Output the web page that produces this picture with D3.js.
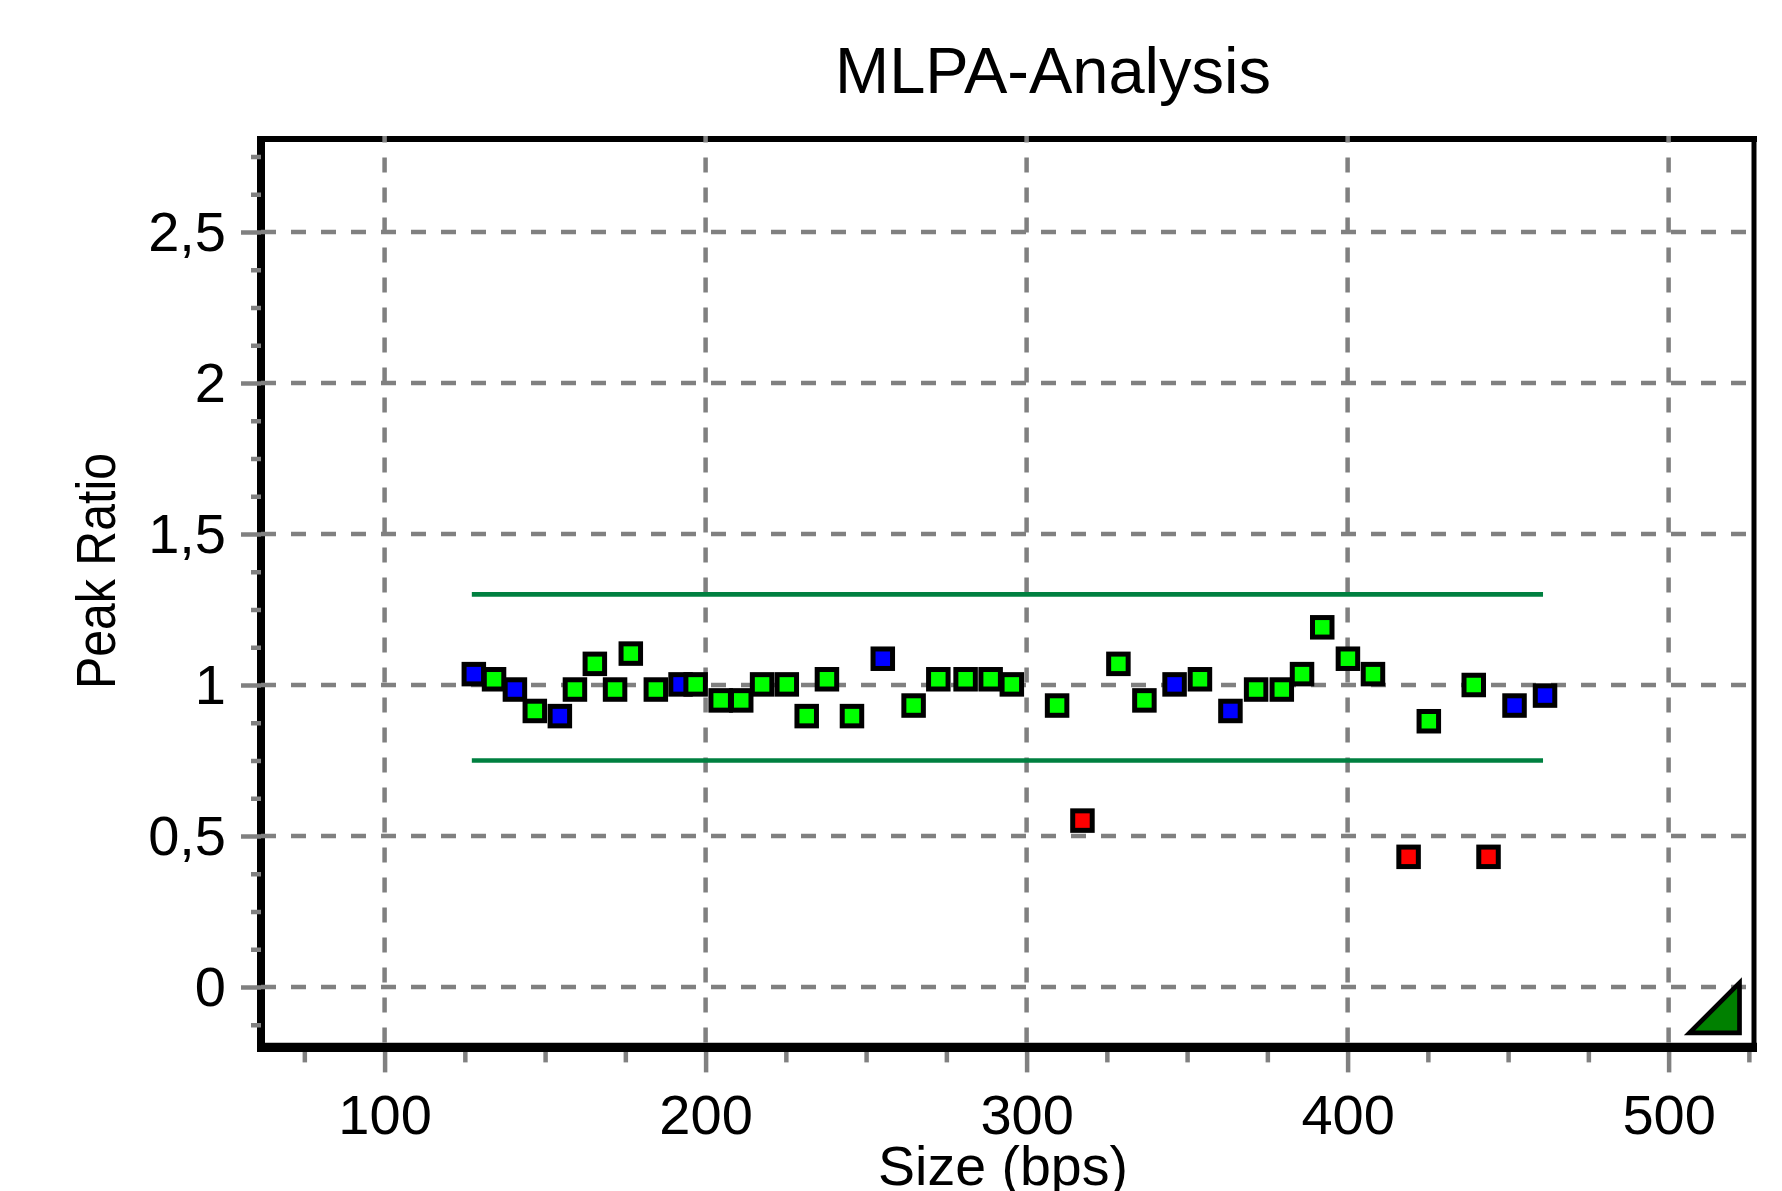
<!DOCTYPE html>
<html>
<head>
<meta charset="utf-8">
<script src="https://cdn.jsdelivr.net/npm/d3@7/dist/d3.min.js"></script>
<style>
  body { margin: 0; background: #ffffff; }
  text { font-family: "Liberation Sans", Arial, sans-serif; fill: #000000; }
</style>
</head>
<body>
<script>
//Data: probe size (bps), peak ratio, probe type
var sizes = [127.8, 134.1, 140.6, 146.8, 154.6, 159.3, 165.5, 171.8, 176.7, 184.5,
             192.2, 196.9, 204.7, 211.1, 217.6, 225.3, 231.5, 237.8, 245.6, 255.2,
             264.8, 272.5, 281.0, 288.8, 295.4, 309.5, 317.4, 328.6, 336.7, 346.1,
             354.0, 363.5, 371.5, 379.5, 385.8, 392.1, 400.1, 407.9, 419.0, 425.3,
             439.3, 443.9, 452.0, 461.5];
var ratios = [1.036, 1.019, 0.985, 0.914, 0.897, 0.985, 1.070, 0.985, 1.104, 0.985,
              1.002, 1.002, 0.949, 0.949, 1.002, 1.002, 0.897, 1.019, 0.897, 1.087,
              0.932, 1.019, 1.019, 1.019, 1.002, 0.932, 0.551, 1.070, 0.949, 1.002,
              1.019, 0.914, 0.985, 0.985, 1.036, 1.191, 1.087, 1.036, 0.431, 0.880,
              1.000, 0.431, 0.932, 0.965];
// c = control probe, n = normal, d = deletion
var probeTypes = ["c", "n", "c", "n", "c", "n", "n", "n", "n", "n",
                  "c", "n", "n", "n", "n", "n", "n", "n", "n", "c",
                  "n", "n", "n", "n", "n", "n", "d", "n", "n", "c",
                  "n", "c", "n", "n", "n", "n", "n", "n", "d", "n",
                  "n", "d", "c", "c"];

var xTickValues = [100, 200, 300, 400, 500];
var xTickLabels = ["100", "200", "300", "400", "500"];
var yTickValues = [0, 0.5, 1, 1.5, 2, 2.5];
var yTickLabels = ["0", "0,5", "1", "1,5", "2", "2,5"];
var limits = [0.75, 1.3];

var typeColors = {c: "#0000ff", n: "#00ff00", d: "#ff0000"};

var width = 1782;
var height = 1191;
var plot = {left: 261, right: 1754, top: 141.4, bottom: 1047.4};
var gridColor = "#808080";

var svg = d3.select("body")
            .append("svg")
            .attr("width", width)
            .attr("height", height);

//Scales
var xScale = d3.scaleLinear()
               .domain([61.5, 526.6])
               .range([plot.left, plot.right]);

var yScale = d3.scaleLinear()
               .domain([-0.2, 2.8])
               .range([plot.bottom, plot.top]);

//Frame (left, top, right)
svg.append("line")
   .attr("x1", plot.left).attr("x2", plot.left)
   .attr("y1", 136).attr("y2", 1052)
   .attr("stroke", "#000").attr("stroke-width", 8);
svg.append("line")
   .attr("x1", 257).attr("x2", 1757)
   .attr("y1", 139).attr("y2", 139)
   .attr("stroke", "#000").attr("stroke-width", 6);
svg.append("line")
   .attr("x1", plot.right).attr("x2", plot.right)
   .attr("y1", 136).attr("y2", 1052)
   .attr("stroke", "#000").attr("stroke-width", 5);

//Grid
svg.append("g")
   .selectAll("line")
   .data(yTickValues)
   .enter()
   .append("line")
   .attr("x1", plot.left)
   .attr("x2", plot.right - 2)
   .attr("y1", function(d) { return yScale(d); })
   .attr("y2", function(d) { return yScale(d); })
   .attr("stroke", gridColor)
   .attr("stroke-width", 4.5)
   .attr("stroke-dasharray", "15,15");

svg.append("g")
   .selectAll("line")
   .data(xTickValues)
   .enter()
   .append("line")
   .attr("x1", function(d) { return xScale(d); })
   .attr("x2", function(d) { return xScale(d); })
   .attr("y1", plot.bottom - 5)
   .attr("y2", 136)
   .attr("stroke", gridColor)
   .attr("stroke-width", 4.5)
   .attr("stroke-dasharray", "15,15");

//Y axis
var yMinor = d3.range(-1, 23).filter(function(i) { return i % 4 !== 0; })
               .map(function(i) { return i * 0.125; });

var yMinorAxis = d3.axisLeft(yScale)
                   .tickValues(yMinor)
                   .tickSize(10)
                   .tickFormat("");

svg.append("g")
   .attr("class", "axis")
   .attr("transform", "translate(" + plot.left + ",0)")
   .call(yMinorAxis);

var yAxis = d3.axisLeft(yScale)
              .tickValues(yTickValues)
              .tickSize(20)
              .tickFormat(function(d, i) { return yTickLabels[i]; });

var yG = svg.append("g")
   .attr("class", "axis")
   .attr("transform", "translate(" + plot.left + ",0)")
   .call(yAxis);

yG.selectAll("text")
  .attr("x", -35)
  .attr("y", 18)
  .attr("dy", 0)
  .attr("font-size", 56)
  .attr("font-family", "Liberation Sans, Arial, sans-serif");

//X axis
var xMinor = d3.range(75, 527, 25).filter(function(d) { return d % 100 !== 0; });

var xMinorAxis = d3.axisBottom(xScale)
                   .tickValues(xMinor)
                   .tickSize(15)
                   .tickFormat("");

svg.append("g")
   .attr("class", "axis")
   .attr("transform", "translate(0," + plot.bottom + ")")
   .call(xMinorAxis);

var xAxis = d3.axisBottom(xScale)
              .tickValues(xTickValues)
              .tickSize(25)
              .tickFormat(function(d, i) { return xTickLabels[i]; });

var xG = svg.append("g")
   .attr("class", "axis")
   .attr("transform", "translate(0," + plot.bottom + ")")
   .call(xAxis);

xG.selectAll("text")
  .attr("y", 87)
  .attr("dy", 0)
  .attr("font-size", 56)
  .attr("font-family", "Liberation Sans, Arial, sans-serif");

svg.selectAll(".axis .domain").remove();
svg.selectAll(".axis line")
   .attr("stroke", gridColor)
   .attr("stroke-width", 4.5);

//Bottom axis line on top
svg.append("line")
   .attr("x1", 257).attr("x2", 1757)
   .attr("y1", plot.bottom).attr("y2", plot.bottom)
   .attr("stroke", "#000").attr("stroke-width", 9.4);

//Deletion / duplication limits
svg.append("g")
   .selectAll("line")
   .data(limits)
   .enter()
   .append("line")
   .attr("x1", xScale(d3.min(sizes)) - 2)
   .attr("x2", xScale(d3.max(sizes)) - 2)
   .attr("y1", function(d) { return yScale(d); })
   .attr("y2", function(d) { return yScale(d); })
   .attr("stroke", "#008040")
   .attr("stroke-width", 4.7);

//Probe points
var sq = 19.5;
svg.append("g")
   .selectAll("rect")
   .data(sizes)
   .enter()
   .append("rect")
   .attr("x", function(d) { return xScale(d) - sq / 2; })
   .attr("y", function(d, i) { return yScale(ratios[i]) - sq / 2; })
   .attr("width", sq)
   .attr("height", sq)
   .attr("fill", function(d, i) { return typeColors[probeTypes[i]]; })
   .attr("stroke", "#000")
   .attr("stroke-width", 5);

//Corner marker
var cx = plot.right - 14.5, cy = plot.bottom - 14.5;
svg.append("path")
   .attr("d", "M" + (cx - 50) + "," + cy + "L" + cx + "," + cy + "L" + cx + "," + (cy - 50) + "Z")
   .attr("fill", "#008000")
   .attr("stroke", "#000")
   .attr("stroke-width", 4.7)
   .attr("stroke-linejoin", "miter");

//Axis labels
svg.append("text")
   .text("Peak Ratio")
   .attr("transform", "translate(115,571) rotate(-90)")
   .attr("text-anchor", "middle")
   .attr("font-size", 56)
   .attr("textLength", 236)
   .attr("lengthAdjust", "spacingAndGlyphs");

svg.append("text")
   .text("Size (bps)")
   .attr("x", 1003)
   .attr("y", 1185)
   .attr("text-anchor", "middle")
   .attr("font-size", 56)
   .attr("textLength", 250)
   .attr("lengthAdjust", "spacingAndGlyphs");

//Title
svg.append("text")
   .text("MLPA-Analysis")
   .attr("x", 1053)
   .attr("y", 93)
   .attr("text-anchor", "middle")
   .attr("font-size", 65);
</script>
</body>
</html>
